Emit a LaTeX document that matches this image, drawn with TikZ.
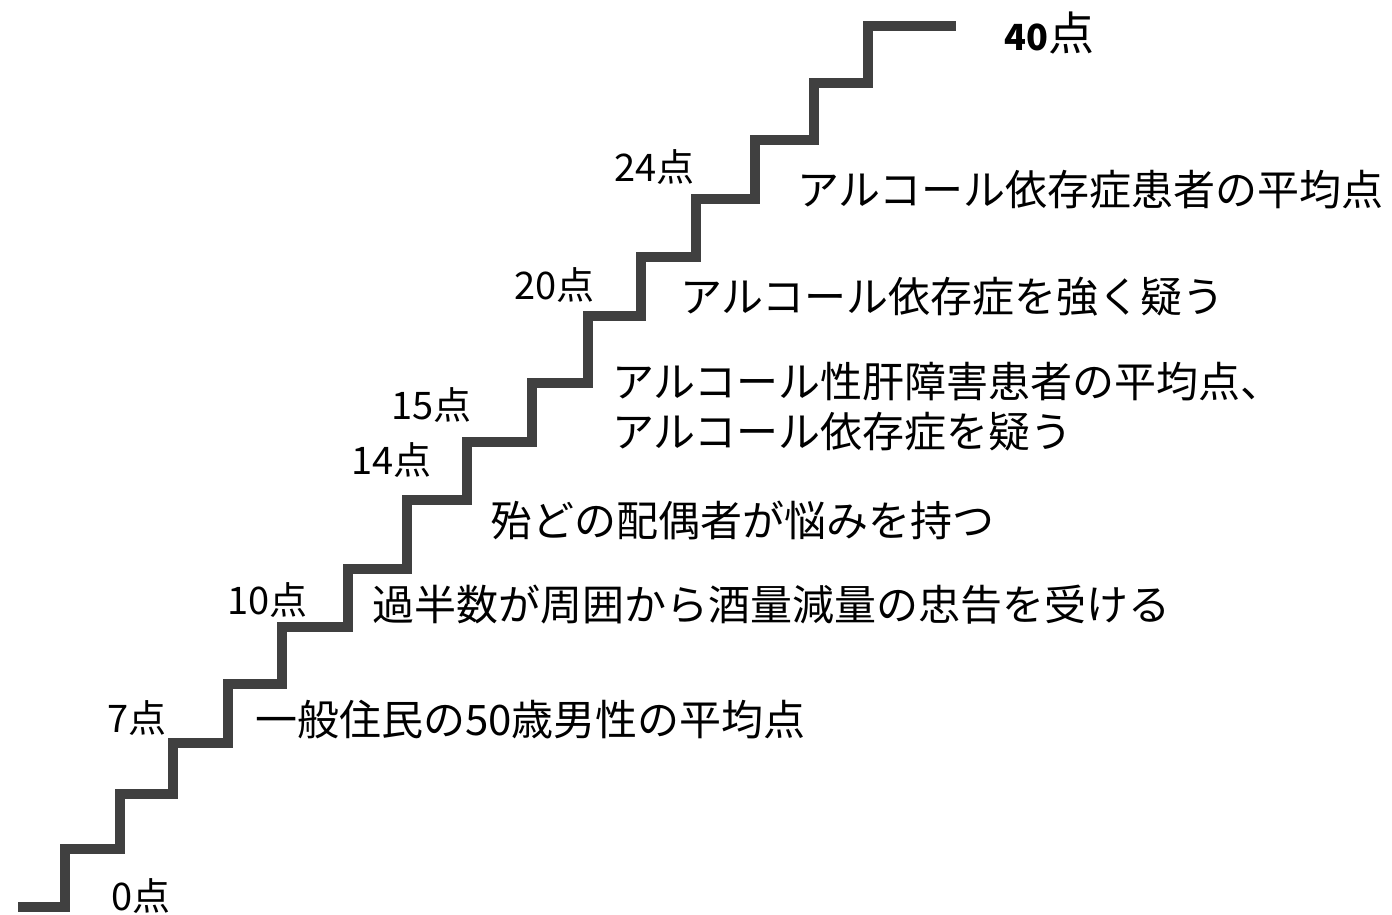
\documentclass[tikz,border=0pt]{standalone}
\usepackage{fontspec}
\newfontfamily\cjk{Noto Sans CJK JP}
\definecolor{stair}{HTML}{404040}
\tikzset{
  stairline/.style={draw=stair, line width=10pt, line cap=butt, line join=miter},
  desc/.style={anchor=west, inner sep=0pt, font=\cjk\fontsize{42}{50}\selectfont},
  score/.style={anchor=west, inner sep=0pt, font=\cjk\fontsize{38}{44}\selectfont},
}
\begin{document}
\begin{tikzpicture}[x=1pt,y=-1pt]
\useasboundingbox (0,0) rectangle (1392,915);
\draw[stairline] (18,907) -- (65,907) -- (65,849) -- (120,849) -- (120,794) -- (173,794)
  -- (173,743) -- (228,743) -- (228,684) -- (282,684) -- (282,627) -- (348,627)
  -- (348,569) -- (407,569) -- (407,500) -- (467,500) -- (467,442) -- (532,442)
  -- (532,383) -- (588,383) -- (588,316) -- (641,316) -- (641,257) -- (696,257)
  -- (696,199) -- (755,199) -- (755,140) -- (814,140) -- (814,83) -- (868,83)
  -- (868,26) -- (956,26);
\node[score] (s40) at (1004,33) {\fontsize{36}{44}\selectfont\bfseries 40\mdseries\fontsize{46}{50}\selectfont 点};
\node[score] (s24) at (614,167) {24点};
\node[score] (s20) at (514,285) {20点};
\node[score] (s15) at (391,405) {15点};
\node[score] (s14) at (351,460) {14点};
\node[score] (s10) at (227,600) {10点};
\node[score] (s7) at (107,718) {7点};
\node[score] (s0) at (111,896) {0点};
\node[desc] (d24) at (797,190) {アルコール依存症患者の平均点};
\node[desc] (d20) at (680,297) {アルコール依存症を強く疑う};
\node[desc] (d15a) at (612,382) {アルコール性肝障害患者の平均点、};
\node[desc] (d15b) at (612,432) {アルコール依存症を疑う};
\node[desc] (d14) at (490,520) {殆どの配偶者が悩みを持つ};
\node[desc] (d10) at (372,605) {過半数が周囲から酒量減量の忠告を受ける};
\node[desc] (d7) at (255,720) {一般住民の50歳男性の平均点};
\end{tikzpicture}
\end{document}
